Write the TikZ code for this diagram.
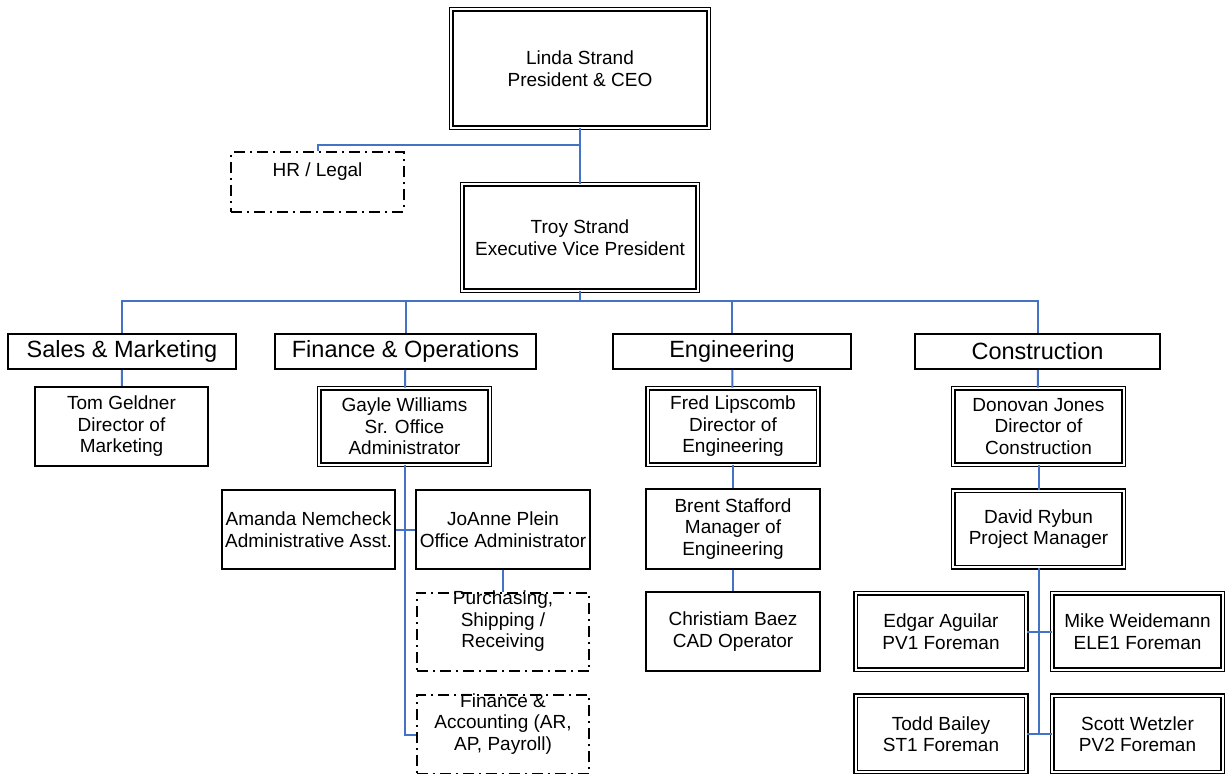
\documentclass[tikz,border=0pt]{standalone}
\usepackage{fontspec}
\setmainfont{Liberation Sans}
\usetikzlibrary{positioning}
\definecolor{linkblue}{RGB}{68,114,196}

\begin{document}
\begin{tikzpicture}[x=1pt,y=-1pt,node distance=102.5pt,
 every node/.style={align=center,inner sep=1pt,font=\fontsize{19}{21.5}\selectfont},
 staff/.style={draw,line width=1.7pt,minimum width=173.5pt,minimum height=79.5pt},
 lead/.style={draw,double,double distance=2pt,line width=1.3pt,minimum width=170.5pt,minimum height=76.5pt},
 unit/.style={draw,line width=2.4pt,dash pattern=on 11pt off 5pt on 2pt off 5pt,
   minimum width=172.5pt,minimum height=78.5pt,label={[yshift=10.5pt]center:#1}},
 dept/.style={draw,line width=1.7pt,minimum height=35.5pt,font=\fontsize{23.5}{27}\selectfont},
 link/.style={draw=linkblue,line width=2pt}]

  \useasboundingbox (0,0) rectangle (1225,773);

  % top
  \node[lead,minimum width=257.5pt,minimum height=118.5pt] (linda) at (580,68.5) {Linda Strand\\President \& CEO};
  \node[lead,minimum width=235.5pt,minimum height=106.5pt] (troy) at (580,237.5) {Troy Strand\\Executive Vice President};
  \node[unit={HR / Legal},minimum height=59.5pt] (hr) at (317.5,182) {};

  % departments
  \node[dept,minimum width=228.5pt] (sales) at (122,351.5) {Sales \& Marketing};
  \node[dept,minimum width=261.5pt] (finops) at (405.5,351.5) {Finance \& Operations};
  \node[dept,minimum width=238.5pt] (eng) at (732,351.5) {Engineering};
  \node[dept,minimum width=245.5pt] (constr) at (1037.5,351.5) {Construction};

  % sales
  \node[staff] (tom) at (121.5,426.5) {Tom Geldner\\Director of\\Marketing};

  % finance
  \node[lead] (gayle) at (404.5,426.5) {Gayle Williams\\Sr. Office\\Administrator};
  \node[staff] (amanda) at (308.5,529.5) {Amanda Nemcheck\\Administrative Asst.};
  \node[staff] (joanne) at (503,529.5) {JoAnne Plein\\Office Administrator};
  \node[unit={Purchasing,\\Shipping /\\Receiving}] (purch) [below of=joanne] {};
  \node[unit={Finance \&\\Accounting (AR,\\AP, Payroll)}] (finacct) [below of=purch] {};

  % engineering
  \node[lead] (fred) at (733,426.5) {Fred Lipscomb\\Director of\\Engineering};
  \node[staff] (brent) [below of=fred] {Brent Stafford\\Manager of\\Engineering};
  \node[staff] (christiam) [below of=brent] {Christiam Baez\\CAD Operator};

  % construction
  \node[lead] (donovan) at (1038.5,426.5) {Donovan Jones\\Director of\\Construction};
  \node[lead] (david) [below of=donovan] {David Rybun\\Project Manager};
  \node[lead] (edgar) at (941,631.5) {Edgar Aguilar\\PV1 Foreman};
  \node[lead] (mike) [right of=edgar,node distance=196.5pt] {Mike Weidemann\\ELE1 Foreman};
  \node[lead] (todd) [below of=edgar] {Todd Bailey\\ST1 Foreman};
  \node[lead] (scott) [below of=mike] {Scott Wetzler\\PV2 Foreman};

  \draw[link] (linda) -- (troy);
  \draw[link] (hr.north) -- ++(0,-6) -| (linda.south);
  \draw[link] (troy.south) -- ++(0,10) coordinate (bus);
  \foreach \d in {sales,finops,eng,constr}
   \draw[link] (bus) -| (\d.north);

  \foreach \s/\t in {sales/tom, finops/gayle, eng/fred, fred/brent, brent/christiam,
                     constr/donovan, donovan/david, amanda/joanne, joanne/purch,
                     edgar/mike, todd/scott}
   \draw[link] (\s) -- (\t);
  \draw[link] (gayle.south) |- (finacct.west);
  \draw[link] (david.south) -- (david.south |- todd.east);
\end{tikzpicture}
\end{document}
